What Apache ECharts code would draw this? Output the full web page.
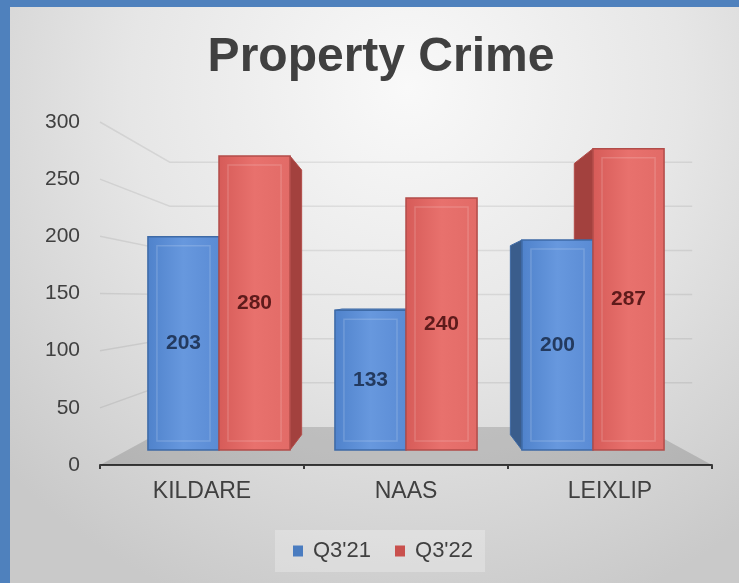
<!DOCTYPE html>
<html>
<head>
<meta charset="utf-8">
<script src="https://cdn.jsdelivr.net/npm/echarts@6/dist/echarts.min.js"></script>
<style>
  html, body { margin: 0; padding: 0; }
  #chart { width: 739px; height: 583px; }
</style>
</head>
<body>
<div id="chart"></div>
<script>
// datos del gráfico
var categorias = ['KILDARE', 'NAAS', 'LEIXLIP'];
var serieNombres = ["Q3'21", "Q3'22"];
var valoresQ321 = [203, 133, 200];
var valoresQ322 = [280, 240, 287];
var marcasEje = [50, 100, 150, 200, 250, 300];

var EYE_LEVEL = 146;   // altura del punto de fuga (en unidades del eje)
var K_BAR = 0.9;       // profundidad de las barras
var K_WALL = 0.772;    // profundidad de la pared del fondo
var BAR_FRAC = 0.38;

var FONT = "'Liberation Sans', Arial, sans-serif";

var estilos = [
    { front: ['#4f82cb', '#6798de', '#5a8bd4'], side: '#3a5d8c', top: '#7aa3dc', border: '#3e6aa6', label: '#233a5f', legend: '#4a7cc0' },
    { front: ['#d65b58', '#e8716d', '#e26b67'], side: '#a3413e', top: '#ec8a86', border: '#b24c49', label: '#5e1b1b', legend: '#c9504d' }
];

var chart = echarts.init(document.getElementById('chart'));

function proj(pt, vp, k) {
    return [vp[0] + k * (pt[0] - vp[0]), vp[1] + k * (pt[1] - vp[1])];
}

function makeBarRender(idx, parte) {
    var st = estilos[idx];
    return function (params, api) {
        var cat = api.value(0);
        var val = api.value(1);
        var base = api.coord([cat, 0]);
        var tope = api.coord([cat, val]);
        var band = api.size([1, 0])[0];
        var w = band * BAR_FRAC;
        var x0 = idx === 0 ? base[0] - w : base[0];
        var x1 = x0 + w;
        var yT = tope[1], yB = base[1];
        var vp = api.coord([1, EYE_LEVEL]);
        var hijos = [];

        if (parte === 'back') {
            // cara lateral que mira hacia el punto de fuga
            if (x1 < vp[0]) {
                hijos.push({
                    type: 'polygon',
                    shape: { points: [[x1, yT], [x1, yB], proj([x1, yB], vp, K_BAR), proj([x1, yT], vp, K_BAR)] },
                    style: { fill: st.side, stroke: st.border, lineWidth: 1 }
                });
            } else if (x0 > vp[0]) {
                hijos.push({
                    type: 'polygon',
                    shape: { points: [[x0, yT], [x0, yB], proj([x0, yB], vp, K_BAR), proj([x0, yT], vp, K_BAR)] },
                    style: { fill: st.side, stroke: st.border, lineWidth: 1 }
                });
            }
            // tapa superior solo si queda por debajo del ojo
            if (yT > vp[1]) {
                hijos.push({
                    type: 'polygon',
                    shape: { points: [[x0, yT], [x1, yT], proj([x1, yT], vp, K_BAR), proj([x0, yT], vp, K_BAR)] },
                    style: { fill: st.top, stroke: st.border, lineWidth: 1 }
                });
            }
        } else {
            hijos.push({
                type: 'rect',
                shape: { x: x0, y: yT, width: w, height: yB - yT },
                style: {
                    fill: new echarts.graphic.LinearGradient(0, 0, 1, 0, [
                        { offset: 0, color: st.front[0] },
                        { offset: 0.5, color: st.front[1] },
                        { offset: 1, color: st.front[2] }
                    ]),
                    stroke: st.border,
                    lineWidth: 1.5
                }
            });
            hijos.push({
                type: 'rect',
                shape: { x: x0 + 9, y: yT + 9, width: w - 18, height: yB - yT - 18 },
                style: { fill: 'none', stroke: 'rgba(255,255,255,0.16)', lineWidth: 1.5 }
            });
            hijos.push({
                type: 'text',
                style: {
                    text: String(val),
                    x: (x0 + x1) / 2,
                    y: (yT + yB) / 2,
                    align: 'center',
                    verticalAlign: 'middle',
                    fill: st.label,
                    font: 'bold 21px ' + FONT
                }
            });
        }
        return { type: 'group', children: hijos };
    };
}

function renderPared(params, api) {
    var cs = params.coordSys;
    var vp = [cs.x + cs.width / 2, api.coord([0, EYE_LEVEL])[1]];
    var v = api.value(1);
    var y = api.coord([0, v])[1];
    var left = [cs.x, y];
    var right = [cs.x + cs.width, y];
    var pl = proj(left, vp, K_WALL);
    var pr = proj(right, vp, K_WALL);
    if (v === 0) {
        return {
            type: 'polygon',
            shape: { points: [left, right, pr, pl] },
            style: { fill: 'rgba(0,0,0,0.14)' }
        };
    }
    return {
        type: 'polyline',
        shape: { points: [left, pl, [pr[0] + 50, pr[1]]] },
        style: { stroke: 'rgba(0,0,0,0.08)', lineWidth: 1.5, fill: null }
    };
}

var datosQ321 = valoresQ321.map(function (v, i) { return [i, v]; });
var datosQ322 = valoresQ322.map(function (v, i) { return [i, v]; });
var datosPared = [[0, 0]].concat(marcasEje.map(function (v) { return [0, v]; }));

var option = {
    animation: false,
    color: [estilos[0].legend, estilos[1].legend],
    title: {
        text: 'Property Crime',
        left: 376,
        textAlign: 'center',
        top: 29,
        textStyle: { fontFamily: FONT, fontSize: 48, fontWeight: 'bold', color: '#404040' }
    },
    graphic: [
        {
            type: 'rect', z: -10, silent: true,
            shape: { x: 0, y: 0, width: 739, height: 583 },
            style: {
                fill: new echarts.graphic.RadialGradient(0.55, 0.15, 0.95, [
                    { offset: 0, color: '#f9f9f9' },
                    { offset: 0.5, color: '#e6e6e6' },
                    { offset: 1, color: '#c9c9c9' }
                ])
            }
        },
        { type: 'rect', z: 100, shape: { x: 0, y: 0, width: 739, height: 7 }, style: { fill: '#4f81bd' } },
        { type: 'rect', z: 100, shape: { x: 0, y: 0, width: 10, height: 583 }, style: { fill: '#4f81bd' } }
    ],
    legend: {
        data: serieNombres,
        left: 275,
        top: 530,
        itemWidth: 10,
        itemHeight: 11,
        itemGap: 24,
        icon: 'rect',
        padding: [10, 12, 10, 18],
        backgroundColor: 'rgba(255,255,255,0.25)',
        textStyle: { fontFamily: FONT, fontSize: 22, color: '#404040', padding: [0, 0, 0, 5] }
    },
    grid: [
        { left: 100, right: 27, top: 122, bottom: 118 },
        { left: 125.5, right: 52.5, top: 135, bottom: 133 }
    ],
    xAxis: [
        {
            type: 'category', gridIndex: 0, data: categorias,
            axisLine: { lineStyle: { color: '#3a3a3a', width: 2 } },
            axisTick: { show: true, length: 4, lineStyle: { color: '#3a3a3a', width: 2 } },
            axisLabel: { fontFamily: FONT, fontSize: 23, color: '#404040', margin: 15 }
        },
        {
            type: 'category', gridIndex: 1, data: categorias, show: false
        }
    ],
    yAxis: [
        {
            type: 'value', gridIndex: 0, min: 0, max: 300, interval: 50,
            axisLine: { show: false }, axisTick: { show: false },
            splitLine: { show: false },
            axisLabel: { fontFamily: FONT, fontSize: 21, color: '#404040', margin: 20 }
        },
        {
            type: 'value', gridIndex: 1, min: 0, max: 300, show: false, splitLine: { show: false }
        }
    ],
    series: [
        {
            type: 'custom', name: 'pared', xAxisIndex: 0, yAxisIndex: 0, z: 1, silent: true,
            renderItem: renderPared, data: datosPared, clip: false
        },
        {
            type: 'custom', name: serieNombres[0], xAxisIndex: 1, yAxisIndex: 1, z: 2,
            itemStyle: { color: estilos[0].legend },
            renderItem: makeBarRender(0, 'back'), data: datosQ321, encode: { x: 0, y: 1 }, clip: false
        },
        {
            type: 'custom', name: serieNombres[1], xAxisIndex: 1, yAxisIndex: 1, z: 2,
            itemStyle: { color: estilos[1].legend },
            renderItem: makeBarRender(1, 'back'), data: datosQ322, encode: { x: 0, y: 1 }, clip: false
        },
        {
            type: 'custom', name: serieNombres[0], xAxisIndex: 1, yAxisIndex: 1, z: 3,
            itemStyle: { color: estilos[0].legend },
            renderItem: makeBarRender(0, 'front'), data: datosQ321, encode: { x: 0, y: 1 }, clip: false
        },
        {
            type: 'custom', name: serieNombres[1], xAxisIndex: 1, yAxisIndex: 1, z: 3,
            itemStyle: { color: estilos[1].legend },
            renderItem: makeBarRender(1, 'front'), data: datosQ322, encode: { x: 0, y: 1 }, clip: false
        }
    ]
};

chart.setOption(option);
</script>
</body>
</html>
